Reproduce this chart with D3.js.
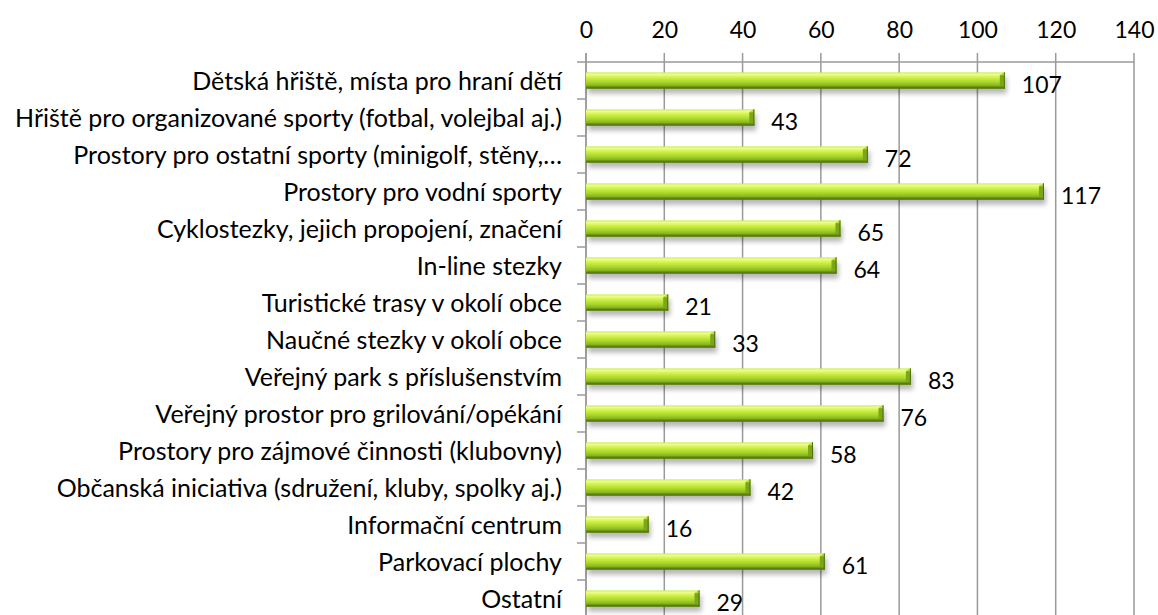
<!DOCTYPE html>
<html>
<head>
<meta charset="utf-8">
<script src="https://cdn.jsdelivr.net/npm/d3@7"></script>
<style>
  html, body { margin: 0; padding: 0; background: #fff; }
  svg { display: block; }
  text { font-family: Lato, "Open Sans", sans-serif; fill: #000; }
</style>
</head>
<body>
<svg id="chart" width="1158" height="615"></svg>
<script>
const categories = [
  "Dětská hřiště, místa pro hraní dětí",
  "Hřiště pro organizované sporty (fotbal, volejbal aj.)",
  "Prostory pro ostatní sporty (minigolf, stěny,…",
  "Prostory pro vodní sporty",
  "Cyklostezky, jejich propojení, značení",
  "In-line stezky",
  "Turistické trasy v okolí obce",
  "Naučné stezky v okolí obce",
  "Veřejný park s příslušenstvím",
  "Veřejný prostor pro grilování/opékání",
  "Prostory pro zájmové činnosti (klubovny)",
  "Občanská iniciativa (sdružení, kluby, spolky aj.)",
  "Informační centrum",
  "Parkovací plochy",
  "Ostatní"
];
const values = [107, 43, 72, 117, 65, 64, 21, 33, 83, 76, 58, 42, 16, 61, 29];
const tickValues = [0, 20, 40, 60, 80, 100, 120, 140];

const svg = d3.select("#chart");
const plotLeft = 586, plotRight = 1134, plotTop = 62, band = 37;
const plotBottom = plotTop + band * categories.length;

const x = d3.scaleLinear().domain([0, 140]).range([plotLeft, plotRight]);
const y = d3.scaleBand().domain(categories).range([plotTop, plotBottom]).paddingInner(0.56).paddingOuter(0.28);

const defs = svg.append("defs");
const grad = defs.append("linearGradient").attr("id", "barGrad")
  .attr("x1", 0).attr("y1", 0).attr("x2", 0).attr("y2", 1);
[[0, "#c9ee52"], [0.12, "#eefc8e"], [0.3, "#d2f24c"], [0.6, "#a8d62a"], [0.82, "#86b21c"], [1, "#5e8412"]]
  .forEach(([o, c]) => grad.append("stop").attr("offset", o).attr("stop-color", c));
const shadow = defs.append("filter").attr("id", "shadow")
  .attr("x", "-5%").attr("y", "-50%").attr("width", "110%").attr("height", "250%");
shadow.append("feGaussianBlur").attr("stdDeviation", 2.5);

// gridlines and top axis line
const grid = svg.append("g");
grid.selectAll("line.v").data(tickValues).join("line")
  .attr("x1", d => x(d)).attr("x2", d => x(d))
  .attr("y1", plotTop - 9).attr("y2", 615)
  .attr("stroke", "#9a9a9a").attr("stroke-width", 1.5);
grid.append("line").attr("x1", plotLeft).attr("x2", plotRight).attr("y1", plotTop).attr("y2", plotTop)
  .attr("stroke", "#9a9a9a").attr("stroke-width", 1.5);

const xAxis = svg.append("g").attr("transform", `translate(0,${plotTop})`)
  .call(d3.axisTop(x).tickValues(tickValues).tickSize(0).tickPadding(24));
xAxis.select(".domain").remove();
xAxis.selectAll("text").style("font-size", "23px").style("font-family", "Lato, sans-serif").attr("fill", "#000");

// left category ticks
const boundaries = d3.range(categories.length + 1).map(i => plotTop + i * band);
svg.append("g").selectAll("line").data(boundaries).join("line")
  .attr("x1", plotLeft - 9).attr("x2", plotLeft).attr("y1", d => d).attr("y2", d => d)
  .attr("stroke", "#9a9a9a").attr("stroke-width", 1.5);
svg.append("line").attr("x1", plotLeft).attr("x2", plotLeft).attr("y1", plotTop - 9).attr("y2", 615)
  .attr("stroke", "#9a9a9a").attr("stroke-width", 1.5);

// category labels
svg.append("g").selectAll("text").data(categories).join("text")
  .attr("x", plotLeft - 24).attr("y", d => y(d) + y.bandwidth() / 2 + 1)
  .attr("dy", "0.35em").attr("text-anchor", "end")
  .style("font-size", "25px").text(d => d);

// bars
const rows = categories.map((c, i) => ({ c, v: values[i] }));
const bars = svg.append("g");
bars.selectAll("rect.sh").data(rows).join("rect")
  .attr("x", x(0) + 2).attr("y", d => y(d.c) + 5)
  .attr("width", d => x(d.v) - x(0)).attr("height", y.bandwidth())
  .attr("fill", "#000").attr("opacity", 0.28).attr("filter", "url(#shadow)");
bars.selectAll("rect.bar").data(rows).join("rect")
  .attr("x", x(0)).attr("y", d => y(d.c))
  .attr("width", d => x(d.v) - x(0)).attr("height", y.bandwidth())
  .attr("fill", "url(#barGrad)");
// bevelled end facets
const bev = 5;
bars.selectAll("path.end").data(rows).join("path")
  .attr("d", d => {
    const x1 = x(d.v), y0 = y(d.c), h = y.bandwidth();
    return `M${x1 - bev},${y0 + bev * 0.6}L${x1},${y0}L${x1},${y0 + h}L${x1 - bev},${y0 + h - bev * 0.6}Z`;
  })
  .attr("fill", "#7ca61a");
bars.selectAll("path.endtop").data(rows).join("path")
  .attr("d", d => {
    const x1 = x(d.v), y0 = y(d.c);
    return `M${x1 - bev},${y0 + bev * 0.6}L${x1},${y0}L${x1},${y0 + 3}Z`;
  })
  .attr("fill", "#b9e03a");
bars.selectAll("line.edge").data(rows).join("line")
  .attr("x1", d => x(d.v) - 0.5).attr("x2", d => x(d.v) - 0.5)
  .attr("y1", d => y(d.c)).attr("y2", d => y(d.c) + y.bandwidth())
  .attr("stroke", "#4f7010").attr("stroke-width", 1);
bars.selectAll("rect.bottom").data(rows).join("rect")
  .attr("x", x(0)).attr("y", d => y(d.c) + y.bandwidth() - 2)
  .attr("width", d => x(d.v) - x(0)).attr("height", 2)
  .attr("fill", "#5a7e12");

// value labels
svg.append("g").selectAll("text").data(rows).join("text")
  .attr("x", d => x(d.v) + 17).attr("y", d => y(d.c) + y.bandwidth() / 2 + 4)
  .attr("dy", "0.35em").style("font-size", "23px").text(d => d.v);
</script>
</body>
</html>
